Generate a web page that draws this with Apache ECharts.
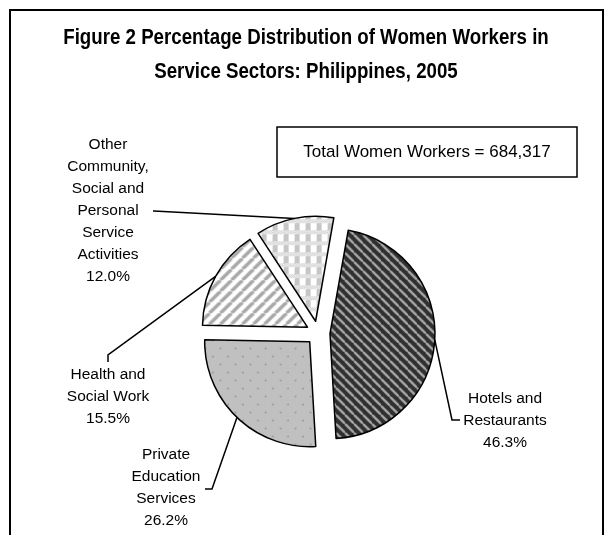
<!DOCTYPE html>
<html><head><meta charset="utf-8">
<script src="https://cdn.jsdelivr.net/npm/echarts@6/dist/echarts.min.js"></script>
<style>html,body{margin:0;padding:0;background:#fff}#c{width:605px;height:535px}</style>
</head><body><div id="c"></div>
<script>
// ---- data ----
const categories = ['Hotels and\nRestaurants', 'Private\nEducation\nServices', 'Health and\nSocial Work', 'Other\nCommunity,\nSocial and\nPersonal\nService\nActivities'];
const percents = [46.3, 26.2, 15.5, 12.0];
const titleLines = ['Figure 2 Percentage Distribution of Women Workers in', 'Service Sectors: Philippines, 2005'];
const totalLabel = 'Total Women Workers = 684,317';

// ---- layout ----
const PIE = {cx: 318, cy: 333, r: 105, offset: 12, startDeg: 10};
const labelSpots = [
  {x: 505, y: 421, line: [[452, 420], [460, 420]]},
  {x: 166, y: 488, line: [[212, 489], [205, 489]]},
  {x: 108, y: 397, line: [[108, 355], [108, 362]]},
  {x: 108, y: 211, line: [[154, 211], [153, 211]]}
];

function makeCanvas(w, h, draw) {
  const c = document.createElement('canvas'); c.width = w; c.height = h;
  draw(c.getContext('2d'), w, h); return c;
}
const hotelsPat = makeCanvas(9, 9, (g, w, h) => {
  g.fillStyle = '#303030'; g.fillRect(0, 0, w, h);
  g.strokeStyle = '#a6a6a6'; g.lineWidth = 2.4;
  for (const o of [-w, 0, w]) { g.beginPath(); g.moveTo(o, 0); g.lineTo(o + w, h); g.stroke(); }
});
const healthPat = makeCanvas(11, 11, (g, w, h) => {
  g.fillStyle = '#ffffff'; g.fillRect(0, 0, w, h);
  g.strokeStyle = '#a8a8a8'; g.lineWidth = 3.4;
  for (const o of [-w, 0, w]) { g.beginPath(); g.moveTo(o, h); g.lineTo(o + w, 0); g.stroke(); }
});
const otherPat = makeCanvas(11, 11, (g, w, h) => {
  g.fillStyle = '#ffffff'; g.fillRect(0, 0, w, h);
  for (let y = 0; y < 4; y++) for (let x = 0; x < w; x++) if ((x + y) % 2 === 0) { g.fillStyle = '#c4c4c4'; g.fillRect(x, y, 1, 1); }
  g.fillStyle = '#c6c6c6'; g.fillRect(0, 4, 5, 7);
});
const eduPat = makeCanvas(15, 16, (g, w, h) => {
  g.fillStyle = '#c0c0c0'; g.fillRect(0, 0, w, h);
  g.fillStyle = '#8c8c8c';
  g.fillRect(3, 3, 1.5, 1.5); g.fillRect(10.5, 11, 1.5, 1.5);
});
const patterns = [hotelsPat, eduPat, healthPat, otherPat];

// anchor points of leader lines on each (exploded) slice's outer arc, from the data
const total = percents.reduce((a, b) => a + b, 0);
let cum = 0;
const anchors = percents.map(v => {
  const mid = (PIE.startDeg + 360 * (cum + v / 2) / total) * Math.PI / 180;
  cum += v;
  const d = PIE.r + PIE.offset;
  return [PIE.cx + d * Math.sin(mid), PIE.cy - d * Math.cos(mid)];
});

const labelGraphics = [];
categories.forEach((name, i) => {
  const s = labelSpots[i];
  labelGraphics.push({type: 'polyline', shape: {points: [anchors[i], s.line[0], s.line[1]]},
    style: {stroke: '#000', lineWidth: 1.5, fill: null}, z: 10});
  labelGraphics.push({type: 'text', x: s.x, y: s.y, z: 10,
    style: {text: name + '\n' + percents[i].toFixed(1) + '%', x: 0, y: 0, align: 'center', verticalAlign: 'middle',
      fontFamily: 'Liberation Sans', fontSize: 15.5, lineHeight: 22, fill: '#000'}});
});

const chart = echarts.init(document.getElementById('c'), null, {renderer: 'canvas'});
chart.setOption({
  animation: false,
  backgroundColor: '#ffffff',
  graphic: [
    {type: 'rect', shape: {x: 10, y: 10, width: 593, height: 540}, style: {fill: 'none', stroke: '#000', lineWidth: 2}},
    {type: 'text', x: 306, y: 38, scaleX: 0.85, style: {text: titleLines[0], x: 0, y: 0, align: 'center', verticalAlign: 'middle',
      fontFamily: 'Liberation Sans', fontWeight: 'bold', fontSize: 22, fill: '#000'}},
    {type: 'text', x: 306, y: 72, scaleX: 0.85, style: {text: titleLines[1], x: 0, y: 0, align: 'center', verticalAlign: 'middle',
      fontFamily: 'Liberation Sans', fontWeight: 'bold', fontSize: 22, fill: '#000'}},
    {type: 'rect', shape: {x: 277, y: 127, width: 300, height: 50}, style: {fill: '#fff', stroke: '#000', lineWidth: 1.5}},
    {type: 'text', x: 427, y: 152, style: {text: totalLabel, x: 0, y: 0, align: 'center', verticalAlign: 'middle',
      fontFamily: 'Liberation Sans', fontSize: 17, fill: '#000'}}
  ].concat(labelGraphics),
  series: [{
    type: 'pie',
    center: [PIE.cx, PIE.cy],
    radius: PIE.r,
    startAngle: 90 - PIE.startDeg,
    clockwise: true,
    selectedMode: 'multiple',
    selectedOffset: PIE.offset,
    emphasis: {disabled: true},
    select: {itemStyle: {borderColor: '#000', borderWidth: 1.5}},
    itemStyle: {borderColor: '#000', borderWidth: 1.5},
    label: {show: false},
    labelLine: {show: false},
    data: categories.map((name, i) => ({
      name: name, value: percents[i], selected: true,
      itemStyle: {color: {image: patterns[i], repeat: 'repeat'}}
    }))
  }]
});
</script>
</body></html>
